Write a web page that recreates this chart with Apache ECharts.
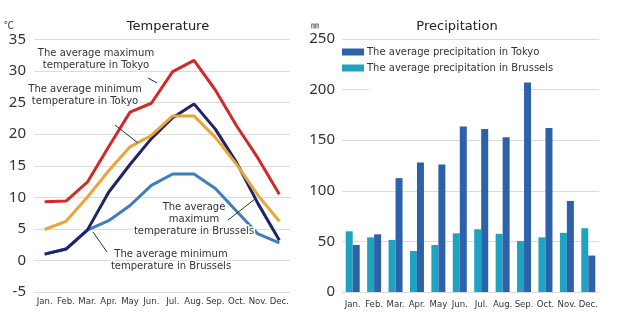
<!DOCTYPE html>
<html><head><meta charset="utf-8">
<script src="https://cdn.jsdelivr.net/npm/echarts@6/dist/echarts.min.js"></script>
<style>html,body{margin:0;padding:0;background:#fff}#c{width:617px;height:321px}</style>
</head><body><div id="c"></div>
<script>
var months = ['Jan.','Feb.','Mar.','Apr.','May','Jun.','Jul.','Aug.','Sep.','Oct.','Nov.','Dec.'];
var tokyoMax = [9.3, 9.4, 12.4, 18.0, 23.5, 24.9, 29.9, 31.7, 27.0, 21.3, 16.2, 10.5];
var tokyoMin = [1.0, 1.8, 4.8, 10.8, 15.2, 19.3, 22.6, 24.8, 20.8, 15.5, 9.0, 3.2];
var brusselsMax = [4.9, 6.2, 10.0, 14.2, 18.0, 19.8, 22.9, 22.9, 19.5, 15.2, 10.3, 6.2];
var brusselsMin = [1.0, 1.8, 4.8, 6.3, 8.7, 11.9, 13.7, 13.7, 11.4, 7.8, 4.2, 2.8];
var tokyoPrecip = [46.5, 57, 112.5, 128, 126, 163.5, 161, 153, 207, 162, 90, 36];
var brusselsPrecip = [60, 54, 51.5, 40.5, 46.5, 58, 62, 57.5, 50.5, 54, 58.5, 63];
var tempTicks = {min: -5, max: 35, interval: 5};
var precipTicks = {min: 0, max: 250, interval: 50};

var chart = echarts.init(document.getElementById('c'), null, {renderer: 'canvas'});
var axisFont = {color: '#333', fontSize: 15, fontFamily: 'Noto Sans'};
var monthFont = {color: '#333', fontSize: 9.5, fontFamily: 'Liberation Sans Narrow, DejaVu Sans Condensed, Noto Sans', interval: 0};
var split = {show: true, lineStyle: {color: '#dcdcdc', width: 1}};
var annFont = '10px DejaVu Sans';
function ann(x, y, txt) {
  return {type: 'text', z: 100, style: {text: txt, x: x, y: y, align: 'center', verticalAlign: 'top', lineHeight: 12, font: annFont, fill: '#333', stroke: '#fff', lineWidth: 3}};
}
function leader(x1, y1, x2, y2) {
  return {type: 'line', z: 101, shape: {x1: x1, y1: y1, x2: x2, y2: y2}, style: {stroke: '#333', lineWidth: 1}};
}
chart.setOption({
  animation: false,
  backgroundColor: '#fff',
  title: [
    {text: 'Temperature', left: 163, top: 15, textAlign: 'center', textStyle: {fontSize: 13, fontWeight: 'normal', color: '#222', fontFamily: 'DejaVu Sans'}},
    {text: 'Precipitation', left: 452, top: 15, textAlign: 'center', textStyle: {fontSize: 13, fontWeight: 'normal', color: '#222', fontFamily: 'DejaVu Sans'}}
  ],
  legend: {
    data: ['The average precipitation in Tokyo', 'The average precipitation in Brussels'],
    orient: 'vertical', left: 342, top: 47, itemWidth: 22, itemHeight: 7, itemGap: 6,
    textStyle: {fontSize: 10, fontFamily: 'DejaVu Sans', color: '#333', padding: [0, 0, 0, -2]},
    icon: 'rect', padding: 0
  },
  grid: [
    {left: 34, top: 39.5, width: 256, height: 252.5},
    {left: 342, top: 39, width: 257, height: 253}
  ],
  xAxis: [
    {type: 'category', gridIndex: 0, data: months, boundaryGap: true, axisLine: {show: false}, axisTick: {show: false}, axisLabel: Object.assign({margin: 5}, monthFont)},
    {type: 'category', gridIndex: 1, data: months, boundaryGap: true, axisLine: {show: false}, axisTick: {show: false}, axisLabel: Object.assign({margin: 8}, monthFont)}
  ],
  yAxis: [
    {type: 'value', gridIndex: 0, min: tempTicks.min, max: tempTicks.max, interval: tempTicks.interval, axisLine: {show: false}, axisTick: {show: false}, splitLine: split, axisLabel: Object.assign({margin: 8}, axisFont)},
    {type: 'value', gridIndex: 1, min: precipTicks.min, max: precipTicks.max, interval: precipTicks.interval, axisLine: {show: false}, axisTick: {show: false}, splitLine: split, axisLabel: Object.assign({margin: 7}, axisFont)}
  ],
  series: [
    {name: 'The average minimum temperature in Brussels', type: 'line', xAxisIndex: 0, yAxisIndex: 0, data: brusselsMin, symbol: 'none', lineStyle: {color: '#3c7ec0', width: 3}, itemStyle: {color: '#3c7ec0'}},
    {name: 'The average minimum temperature in Tokyo', type: 'line', xAxisIndex: 0, yAxisIndex: 0, data: tokyoMin, symbol: 'none', lineStyle: {color: '#1c246e', width: 3}, itemStyle: {color: '#1c246e'}},
    {name: 'The average maximum temperature in Brussels', type: 'line', xAxisIndex: 0, yAxisIndex: 0, data: brusselsMax, symbol: 'none', lineStyle: {color: '#e8a53a', width: 3}, itemStyle: {color: '#e8a53a'}},
    {name: 'The average maximum temperature in Tokyo', type: 'line', xAxisIndex: 0, yAxisIndex: 0, data: tokyoMax, symbol: 'none', lineStyle: {color: '#cf2b27', width: 3}, itemStyle: {color: '#cf2b27'}},
    {name: 'The average precipitation in Brussels', type: 'bar', xAxisIndex: 1, yAxisIndex: 1, data: brusselsPrecip, barWidth: 7, barGap: '0%', itemStyle: {color: '#1fa3c2'}},
    {name: 'The average precipitation in Tokyo', type: 'bar', xAxisIndex: 1, yAxisIndex: 1, data: tokyoPrecip, barWidth: 7, barGap: '0%', itemStyle: {color: '#2d62ab'}}
  ],
  graphic: [
    {type: 'text', z: 100, style: {text: '\u2103', x: 4, y: 20, font: '10px Noto Sans CJK JP', fill: '#333'}},
    {type: 'text', z: 100, style: {text: '\u339c', x: 311, y: 21, font: '8px Noto Sans CJK JP', fill: '#333'}},
    {type: 'rect', z: 1, shape: {x: 369, y: 44, width: 152, height: 52}, style: {fill: '#fff'}},
    ann(96, 47, 'The average maximum\ntemperature in Tokyo'),
    leader(148, 78, 157, 83),
    ann(85, 83, 'The average minimum\ntemperature in Tokyo'),
    leader(115, 125, 138, 143),
    ann(194, 201, 'The average\nmaximum\ntemperature in Brussels'),
    leader(228, 220, 255, 199),
    ann(171, 248, 'The average minimum\ntemperature in Brussels'),
    leader(93, 232, 107, 252)
  ]
});
</script></body></html>
